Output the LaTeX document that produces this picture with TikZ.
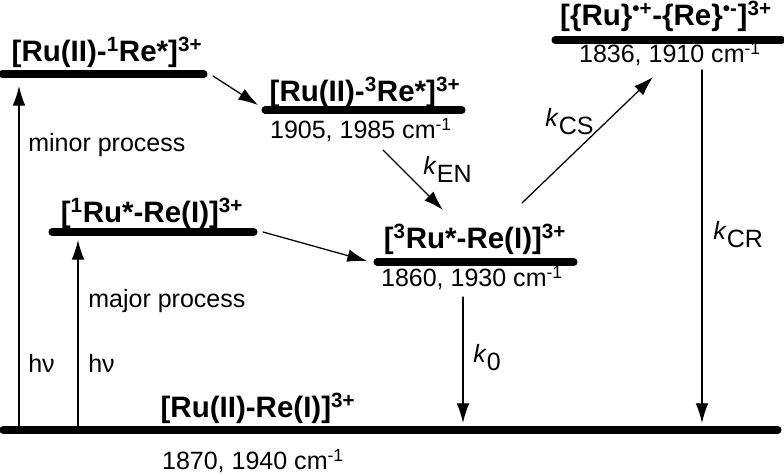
\documentclass[tikz,border=0pt]{standalone}
\usepackage{fontspec}
\setmainfont{Liberation Sans}
\usepackage{tkz-euclide}
\usetikzlibrary{arrows.meta}
\tikzset{
  lvltxt/.style={font=\bfseries\fontsize{21}{24}\selectfont,anchor=base,inner sep=0pt},
  valtxt/.style={font=\fontsize{17.8}{20}\selectfont,anchor=base,inner sep=0pt},
  proctxt/.style={font=\fontsize{17.8}{20}\selectfont,anchor=base west,inner sep=0pt},
  trans/.style={line width=0.9pt,-{Latex[length=14pt,width=9pt]}}
}
\newcommand{\rate}[1]{\textit{k}\raisebox{-5pt}{#1}}
\newcommand{\wavenum}[1]{#1 cm\textsuperscript{-1}}

\begin{document}
\begin{tikzpicture}[scale=.5]
\tkzSetUpLine[line width=5pt,color=black]

\tkzDefPoints{0/0/O,39.2/23.8/E}
\useasboundingbox (O) rectangle (E);

% energy levels
\tkzDefPoints{0.15/2.3/G1,38.9/2.3/G2,0.1/20.1/SA,10.2/20.1/SB,13.25/18.3/TA,23.1/18.3/TB}
\tkzDefPoints{2.6/12.2/RA,12.7/12.2/RB,18.85/10.7/QA,28.7/10.7/QB,27.75/21.8/CA,39.1/21.8/CB}

% transitions
\tkzDefPoints{0.95/2.3/Ha,0.95/19.5/Hb,3.9/2.3/Hc,3.9/11.8/Hd}
\tkzDefPoints{10.65/20.0/Ia,12.9/18.55/Ib,19.15/16.3/Ea,22.15/13.3/Eb,13.15/12.2/Fa,18.35/10.75/Fb}
\tkzDefPoints{26.1/13.65/Sa,32.65/19.95/Sb,35.1/20.3/Ra,35.1/2.65/Rb,23.15/8.95/Ka,23.15/2.65/Kb}

\tkzDrawSegments(G1,G2 SA,SB TA,TB RA,RB QA,QB CA,CB)
\tkzDrawSegments[trans](Ha,Hb Hc,Hd Ia,Ib Ea,Eb Fa,Fb Sa,Sb Ra,Rb Ka,Kb)

\node (lblS) [lvltxt] at (5.35,20.7) {[Ru(II)-\textsuperscript{1}Re*]\textsuperscript{3+}};
\node (lblT) [lvltxt] at (18.25,18.7) {[Ru(II)-\textsuperscript{3}Re*]\textsuperscript{3+}};
\node (valT) [valtxt] at (18.05,16.85) {\wavenum{1905, 1985}};
\node (lblC) [lvltxt] at (33.3,22.5) {[\{Ru\}\textsuperscript{•+}-\{Re\}\textsuperscript{•-}]\textsuperscript{3+}};
\node (valC) [valtxt] at (33.5,20.65) {\wavenum{1836, 1910}};
\node (lblR) [lvltxt] at (7.6,12.65) {[\textsuperscript{1}Ru*-Re(I)]\textsuperscript{3+}};
\node (lblQ) [lvltxt] at (23.75,11.35) {[\textsuperscript{3}Ru*-Re(I)]\textsuperscript{3+}};
\node (valQ) [valtxt] at (23.6,9.45) {\wavenum{1860, 1930}};
\node (lblG) [lvltxt] at (12.9,2.9) {[Ru(II)-Re(I)]\textsuperscript{3+}};
\node (valG) [valtxt] at (12.65,0.3) {\wavenum{1870, 1940}};

\node (minor) [proctxt] at (1.4,16.2) {minor process};
\node (major) [proctxt] at (4.4,8.4) {major process};
\node (hvA) [proctxt] at (1.4,5.15) {hν};
\node (hvB) [proctxt] at (4.4,5.15) {hν};
\node (kEN) [proctxt] at (21.15,15.05) {\rate{EN}};
\node (kCS) [proctxt] at (27.25,17.45) {\rate{CS}};
\node (kCR) [proctxt] at (35.65,11.8) {\rate{CR}};
\node (kO) [proctxt] at (23.65,5.65) {\rate{0}};

\end{tikzpicture}
\end{document}
